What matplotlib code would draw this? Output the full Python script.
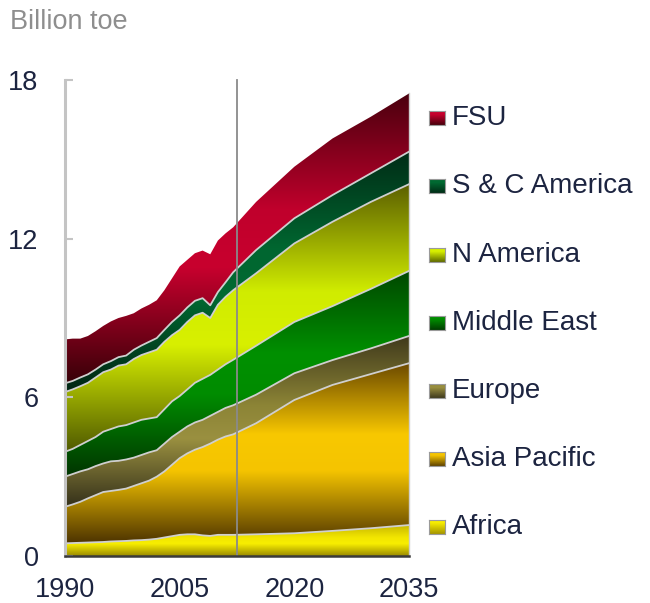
import matplotlib
matplotlib.use('Agg')
import matplotlib.pyplot as plt
import numpy as np
from matplotlib.colors import LinearSegmentedColormap

# font
plt.rcParams['font.family'] = ['Liberation Sans', 'DejaVu Sans']

# data (billion toe), history 1990-2012 then outlook
years = list(range(1990, 2013)) + [2015, 2020, 2025, 2030, 2035]
africa = [0.48, 0.49, 0.50, 0.51, 0.52, 0.53, 0.55, 0.56, 0.57, 0.59, 0.60, 0.62, 0.65, 0.70, 0.75, 0.80, 0.82, 0.82, 0.78, 0.76, 0.80, 0.80, 0.80,
          0.82, 0.86, 0.95, 1.05, 1.17]
asia_pacific = [1.38, 1.46, 1.55, 1.67, 1.78, 1.89, 1.91, 1.94, 1.98, 2.06, 2.15, 2.23, 2.35, 2.50, 2.70, 2.90, 3.06, 3.20, 3.34, 3.49, 3.60, 3.72, 3.80,
                4.20, 5.04, 5.52, 5.83, 6.12]
europe = [1.14, 1.15, 1.15, 1.10, 1.10, 1.08, 1.12, 1.10, 1.10, 1.07, 1.07, 1.07, 1.00, 1.05, 1.05, 1.00, 1.02, 1.03, 1.03, 1.05, 1.05, 1.08, 1.10,
          1.08, 1.01, 0.94, 0.97, 1.03]
middle_east = [0.94, 0.95, 1.00, 1.07, 1.10, 1.20, 1.22, 1.30, 1.30, 1.33, 1.33, 1.28, 1.25, 1.30, 1.35, 1.35, 1.40, 1.50, 1.55, 1.55, 1.60, 1.65, 1.72,
               1.85, 1.94, 2.04, 2.25, 2.46]
n_america = [2.26, 2.25, 2.22, 2.20, 2.25, 2.25, 2.25, 2.30, 2.30, 2.40, 2.45, 2.50, 2.55, 2.55, 2.50, 2.50, 2.55, 2.55, 2.50, 2.15, 2.45, 2.55, 2.63,
             2.74, 2.97, 3.19, 3.29, 3.28]
sc_america = [0.33, 0.32, 0.33, 0.32, 0.30, 0.30, 0.32, 0.32, 0.33, 0.35, 0.36, 0.40, 0.44, 0.45, 0.50, 0.55, 0.55, 0.55, 0.55, 0.48, 0.48, 0.55, 0.68,
              0.88, 0.95, 1.01, 1.08, 1.23]
fsu = [1.66, 1.60, 1.47, 1.45, 1.45, 1.45, 1.50, 1.48, 1.50, 1.38, 1.40, 1.40, 1.43, 1.50, 1.65, 1.85, 1.80, 1.80, 1.80, 1.93, 1.95, 1.85, 1.70,
       1.82, 1.95, 2.14, 2.14, 2.20]

labels = ['Africa', 'Asia Pacific', 'Europe', 'Middle East', 'N America', 'S & C America', 'FSU']
series = [africa, asia_pacific, europe, middle_east, n_america, sc_america, fsu]
history_end = 2012.5

# gradient colours: bottom, middle, top
band_colors = [
    ['#9a8a00', '#f8ee00', '#f2e600', '#c8b800'],
    ['#4e3400', '#f5c400', '#f8c800', '#6a4800'],
    ['#34301a', '#9a9040', '#8c8436', '#403a1c'],
    ['#003400', '#008c00', '#009000', '#004800'],
    ['#505a00', '#d8f000', '#d0ec00', '#5c6000'],
    ['#002412', '#006a32', '#006630', '#002c16'],
    ['#380008', '#c8002e', '#c0002c', '#4a000e'],
]

x = np.array(years, dtype=float)
data = np.array(series)
tops = np.cumsum(data, axis=0)
bottoms = np.vstack([np.zeros(len(x)), tops[:-1]])

fig = plt.figure(figsize=(6.5, 6.03), dpi=100)
ax = fig.add_axes([65 / 650, 47 / 603, 344 / 650, 476 / 603])

cmaps = []
for i in range(len(series)):
    cmap = LinearSegmentedColormap.from_list('b%d' % i, list(zip([0, 0.4, 0.6, 1], band_colors[i])))
    cmaps.append(cmap)
    poly = ax.fill_between(x, bottoms[i], tops[i], facecolor='none', edgecolor='none')
    y0, y1 = bottoms[i].min(), tops[i].max()
    grad = np.linspace(0, 1, 256).reshape(-1, 1)
    im = ax.imshow(grad, cmap=cmap, origin='lower', aspect='auto',
                   extent=[x[0], x[-1], y0, y1], interpolation='bicubic', zorder=1)
    im.set_clip_path(poly.get_paths()[0], transform=ax.transData)

# light separator lines between bands
for i in range(len(series) - 1):
    ax.plot(x, tops[i], color='#cfcfcf', lw=1.3, zorder=2)
ax.plot([x[-1], x[-1]], [0, tops[-1][-1]], color='#cfcfcf', lw=1.0, zorder=2, clip_on=False)

# history / outlook divider
ax.plot([history_end, history_end], [0, 18], color='#8a8a8a', lw=1.3, zorder=3, clip_on=False)

ax.set_xlim(1990, 2035)
ax.set_ylim(0, 18)
ax.set_xticks([1990, 2005, 2020, 2035])
ax.set_yticks([0, 6, 12, 18])

for s in ['top', 'right']:
    ax.spines[s].set_visible(False)
ax.spines['left'].set_color('#c4c4c4')
ax.spines['left'].set_linewidth(2.2)
ax.spines['bottom'].set_color('#3a3a3a')
ax.spines['bottom'].set_linewidth(1.8)
ax.spines['bottom'].set_zorder(4)

ax.tick_params(axis='y', direction='in', length=6, width=1.5, color='#c4c4c4',
               pad=19, labelsize=19.5, labelcolor='#1c2440')
ax.tick_params(axis='x', length=0, pad=15, labelsize=19.5, labelcolor='#1c2440')

fig.text(10 / 650, 1 - 22 / 603, 'Billion toe', fontsize=19.5, color='#8e8e8e', va='center', ha='left')

# legend, top to bottom
leg_y = [118, 186, 255, 323, 391, 459, 527]
for k, i in enumerate(range(len(series) - 1, -1, -1)):
    yc = leg_y[k]
    sq = fig.add_axes([429 / 650, (603 - yc - 7) / 603, 16 / 650, 14 / 603])
    sq.imshow(np.linspace(0.05, 0.5, 32).reshape(-1, 1), cmap=cmaps[i], vmin=0, vmax=1,
              origin='lower', aspect='auto')
    sq.set_xticks([])
    sq.set_yticks([])
    for s in sq.spines.values():
        s.set_color('#9a9a9a')
        s.set_linewidth(0.8)
    fig.text(452 / 650, 1 - yc / 603, labels[i], fontsize=20, color='#1c2440', va='center', ha='left')

plt.savefig('out.png', dpi=100)
